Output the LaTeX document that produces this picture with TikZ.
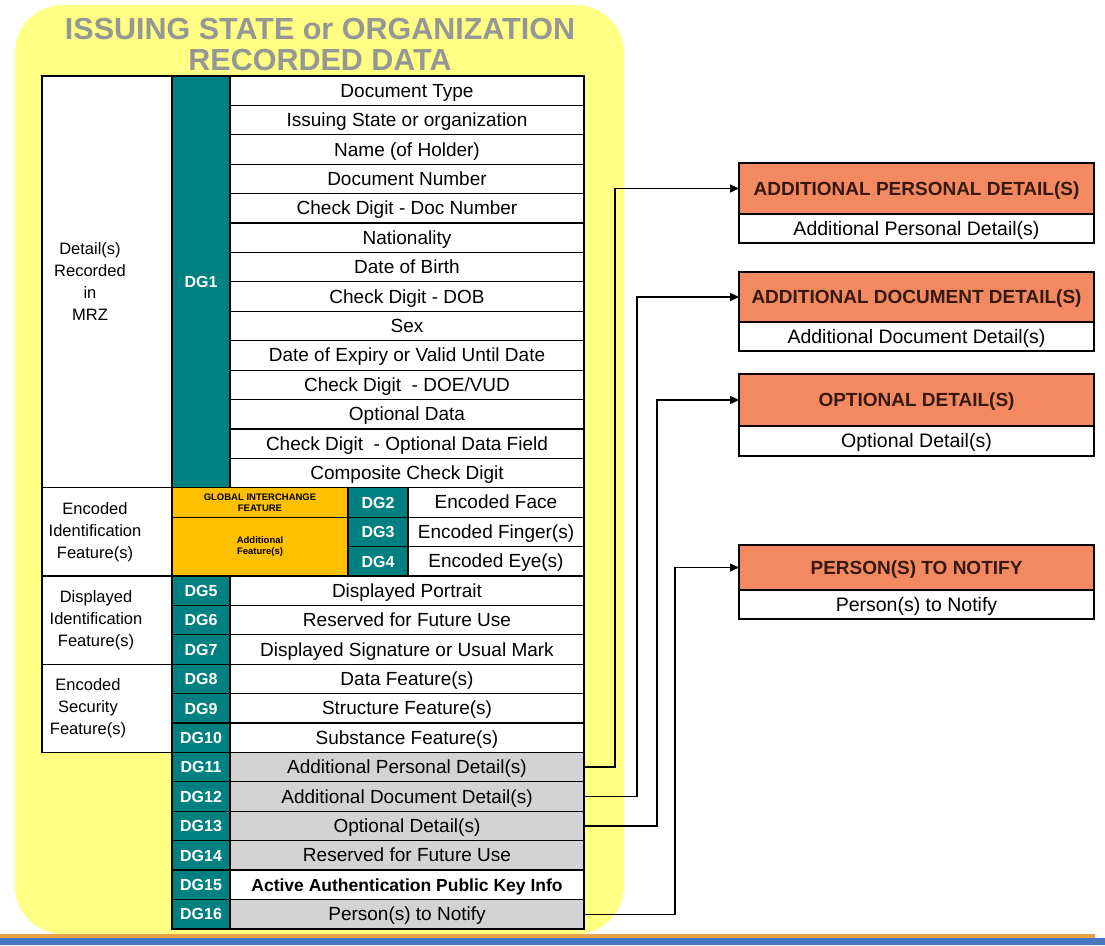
\documentclass[tikz,border=0pt]{standalone}
\usepackage{fontspec}
\setmainfont{Liberation Sans}
\usetikzlibrary{arrows.meta}
\definecolor{bgyellow}{RGB}{255,255,132}
\definecolor{teal1}{RGB}{0,128,128}
\definecolor{gold1}{RGB}{255,192,0}
\definecolor{coral1}{RGB}{242,137,96}
\definecolor{gray1}{RGB}{211,211,211}
\definecolor{titlegray}{RGB}{150,150,150}
\definecolor{hdrtext}{RGB}{55,25,15}
\definecolor{band1}{RGB}{70,120,195}
\definecolor{line1}{RGB}{235,160,70}
\begin{document}
\begin{tikzpicture}[x=1pt,y=-1pt,
  cellbase/.style={draw=black, line width=1.2pt, inner sep=0pt, outer sep=0pt, align=center},
  txtw/.style={cellbase, fill=white, minimum width=354pt, minimum height=29.41pt, text height=13pt, text depth=0pt, font=\fontsize{19}{20}\selectfont},
  dgcell/.style={cellbase, fill=teal1, text=white, minimum width=58pt, minimum height=29.41pt, text height=11.5pt, text depth=0pt, font=\bfseries\fontsize{16}{18}\selectfont},
  grpcell/.style={cellbase, fill=white, minimum width=130pt},
  grptext/.style={inner sep=0pt, align=center, font=\fontsize{16.5}{22}\selectfont},
  goldcell/.style={cellbase, fill=gold1, minimum width=176pt, font=\bfseries\fontsize{9.5}{11}\selectfont},
  hdr/.style={cellbase, fill=coral1, text=hdrtext, minimum width=355pt, text height=13.5pt, text depth=0pt, font=\bfseries\fontsize{19}{20}\selectfont},
  bdy/.style={cellbase, fill=white, minimum width=355pt, text height=13.5pt, text depth=0pt, font=\fontsize{19.5}{20}\selectfont},
  conn/.style={draw=black, line width=1.3pt, -{Triangle[length=9pt,width=8pt]}},
]
\fill[white] (0,0) rectangle (1105,945);
\useasboundingbox (0,0) rectangle (1105,945);
% yellow backdrop
\fill[bgyellow, rounded corners=48pt] (15,5) rectangle (624,934);
\node[font=\bfseries\fontsize{30.5}{31}\selectfont, text=titlegray, align=center, inner sep=0pt] (title) at (320,44) {ISSUING STATE or ORGANIZATION\\RECORDED DATA};
% DG1 block
\foreach \t [count=\k from 0] in {Document Type, Issuing State or organization, Name (of Holder), Document Number, Check Digit - Doc Number, Nationality, Date of Birth, Check Digit - DOB, Sex, Date of Expiry or Valid Until Date, Check Digit\ \ - DOE/VUD, Optional Data, Check Digit\ \ - Optional Data Field, Composite Check Digit}
  \node[txtw] (r\k) at (407,{76+(\k+0.5)*29.41}) {\t};
\node[dgcell, minimum height=411.74pt] (dg1) at (201,281.87) {DG1};
\node[grpcell, minimum height=411.74pt] (g1) at (107,281.87) {};
\node[grptext] (g1t) at (90,281.87) {Detail(s)\\Recorded\\in\\MRZ};
% encoded identification
\node[grpcell, minimum height=88.23pt] (g2) at (107,531.86) {};
\node[grptext] (g2t) at (95,531.86) {Encoded\\Identification\\Feature(s)};
\node[goldcell, minimum height=29.41pt] (gi) at (260,502.45) {GLOBAL INTERCHANGE\\FEATURE};
\node[goldcell, minimum height=58.82pt] (af) at (260,546.57) {Additional\\Feature(s)};
\foreach \d/\t [count=\k from 14] in {2/Encoded Face,3/Encoded Finger(s),4/Encoded Eye(s)} {
  \node[dgcell, minimum width=60pt] (dg\d) at (378,{76+(\k+0.5)*29.41}) {DG\d};
  \node[txtw, minimum width=176pt] (t\d) at (496,{76+(\k+0.5)*29.41}) {\t};
}
% displayed / security groups
\node[grpcell, minimum height=88.23pt] (g3) at (107,620.09) {};
\node[grptext] (g3t) at (96,620.09) {Displayed\\Identification\\Feature(s)};
\node[grpcell, minimum height=88.23pt] (g4) at (107,708.32) {};
\node[grptext] (g4t) at (88,708.32) {Encoded\\Security\\Feature(s)};
\foreach \d/\t/\c [count=\k from 17] in {5/Displayed Portrait/white, 6/Reserved for Future Use/white, 7/Displayed Signature or Usual Mark/white, 8/Data Feature(s)/white, 9/Structure Feature(s)/white, 10/Substance Feature(s)/white, 11/Additional Personal Detail(s)/gray1, 12/Additional Document Detail(s)/gray1, 13/Optional Detail(s)/gray1, 14/Reserved for Future Use/gray1, 15/{\bfseries\fontsize{17.5}{20}\selectfont Active Authentication Public Key Info}/white, 16/Person(s) to Notify/gray1} {
  \node[dgcell] (dg\d) at (201,{76+(\k+0.5)*29.41}) {DG\d};
  \node[txtw, fill=\c] (t\d) at (407,{76+(\k+0.5)*29.41}) {\t};
}
% right boxes
\node[hdr, minimum height=51pt] (h1) at (916.5,188.5) {ADDITIONAL PERSONAL DETAIL(S)};
\node[bdy, minimum height=29pt] (b1) at (916.5,228.5) {Additional Personal Detail(s)};
\node[hdr, minimum height=50pt] (h2) at (916.5,297) {ADDITIONAL DOCUMENT DETAIL(S)};
\node[bdy, minimum height=29pt] (b2) at (916.5,336.5) {Additional Document Detail(s)};
\node[hdr, minimum height=52pt] (h3) at (916.5,400) {OPTIONAL DETAIL(S)};
\node[bdy, minimum height=30pt] (b3) at (916.5,441) {Optional Detail(s)};
\node[hdr, minimum height=45pt] (h4) at (916.5,567.5) {PERSON(S) TO NOTIFY};
\node[bdy, minimum height=29pt] (b4) at (916.5,604.5) {Person(s) to Notify};
% connectors
\draw[conn] (t11.east) -- ++(31,0) |- (h1.west);
\draw[conn] (t12.east) -- ++(53,0) |- (h2.west);
\draw[conn] (t13.east) -- ++(73,0) |- (h3.west);
\draw[conn] (t16.east) -- ++(91,0) |- (h4.west);
% bottom band
\fill[line1] (0,934) rectangle (1095,937.5);
\fill[band1] (0,937.5) rectangle (1105,945);
\end{tikzpicture}
\end{document}
